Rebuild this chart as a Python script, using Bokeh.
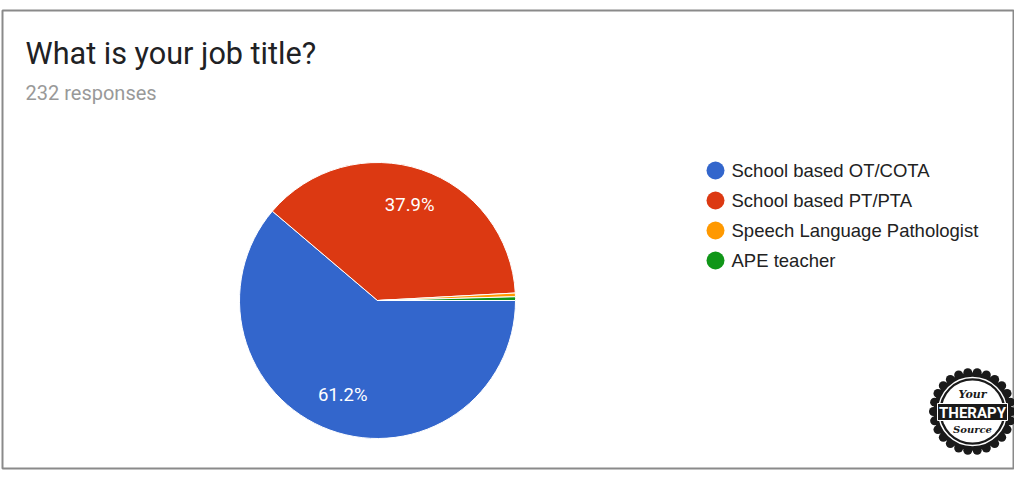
import numpy as np
from bokeh.plotting import figure
from bokeh.models import Range1d
from bokeh.core.properties import value
from bokeh.embed import file_html
from bokeh.resources import INLINE

title = "What is your job title?"
subtitle = "232 responses"
categories = ["School based OT/COTA", "School based PT/PTA",
              "Speech Language Pathologist", "APE teacher"]
counts = [142, 88, 1, 1]
colors = ["#3366cc", "#dc3912", "#ff9900", "#109618"]

W, H = 1014, 483
p = figure(width=W, height=H, output_backend="svg", toolbar_location=None,
           x_range=Range1d(0, W), y_range=Range1d(0, H), min_border=0)
p.axis.visible = False
p.grid.visible = False
p.outline_line_color = None
p.background_fill_color = "white"
p.border_fill_color = "white"

def Y(py):
    return H - py

# frame
p.quad(left=[2], right=[1013], top=[Y(10)], bottom=[Y(468)],
       fill_color=None, line_color="#8a8a8a", line_width=2)

p.text(x=[25], y=[Y(53)], text=[title], text_font=value("Roboto"),
       text_font_size="30.6px", text_color="#202124", text_baseline="alphabetic")
p.text(x=[25], y=[Y(92)], text=[subtitle], text_font=value("Roboto"),
       text_font_size="20px", text_color="#999999", text_baseline="alphabetic")

# pie
cx, cy, R = 377, Y(300), 138
vals = np.array(counts, dtype=float)
frac = vals / vals.sum()
cum = np.concatenate([[0], np.cumsum(frac)])
starts = -cum[:-1] * 2 * np.pi
ends = -cum[1:] * 2 * np.pi
p.wedge(x=cx, y=cy, radius=R, start_angle=list(starts), end_angle=list(ends),
        direction="clock", fill_color=colors, line_color="white", line_width=1)

mids = (starts + ends) / 2
lab_r = 0.73 * R
for i in range(2):
    p.text(x=[cx + lab_r * np.cos(mids[i])], y=[cy + lab_r * np.sin(mids[i])],
           text=[f"{frac[i]*100:.1f}%"], text_font=value("Roboto"),
           text_font_size="18.5px", text_color="white",
           text_align="center", text_baseline="middle")

# legend
leg_y = [Y(170 + 30 * i) for i in range(len(categories))]
p.scatter(x=[715] * len(categories), y=leg_y, size=18, marker="circle",
          fill_color=colors, line_color=None)
p.text(x=[731] * len(categories), y=leg_y, text=categories,
       text_font=value("Liberation Sans"), text_font_size="18.5px",
       text_color="#222222", text_baseline="middle")

# badge logo
bx, by = 972, Y(411)
ang = np.linspace(0, 2 * np.pi, 26, endpoint=False)
p.scatter(x=list(bx + 39 * np.cos(ang)), y=list(by + 39 * np.sin(ang)),
          size=9, marker="circle", fill_color="#1a1a1a", line_color=None)
p.circle(x=[bx], y=[by], radius=39, fill_color="#1a1a1a", line_color=None)
p.circle(x=[bx], y=[by], radius=34, fill_color=None, line_color="white", line_width=1.5)
p.circle(x=[bx], y=[by], radius=31, fill_color="white", line_color=None)
p.quad(left=[bx - 35], right=[bx + 35], top=[Y(403)], bottom=[Y(420)],
       fill_color="#1a1a1a", line_color="white", line_width=1)
p.text(x=[bx], y=[Y(412)], text=["THERAPY"], text_font=value("Roboto"),
       text_font_style="bold", text_font_size="15px", text_color="white",
       text_align="center", text_baseline="middle")
p.text(x=[bx], y=[Y(394)], text=["Your"], text_font=value("DejaVu Serif"),
       text_font_style="bold italic", text_font_size="11px", text_color="#1a1a1a",
       text_align="center", text_baseline="middle")
p.text(x=[bx], y=[Y(429)], text=["Source"], text_font=value("DejaVu Serif"),
       text_font_style="bold italic", text_font_size="10px", text_color="#1a1a1a",
       text_align="center", text_baseline="middle")

open("out.html", "w").write(file_html(p, INLINE))
